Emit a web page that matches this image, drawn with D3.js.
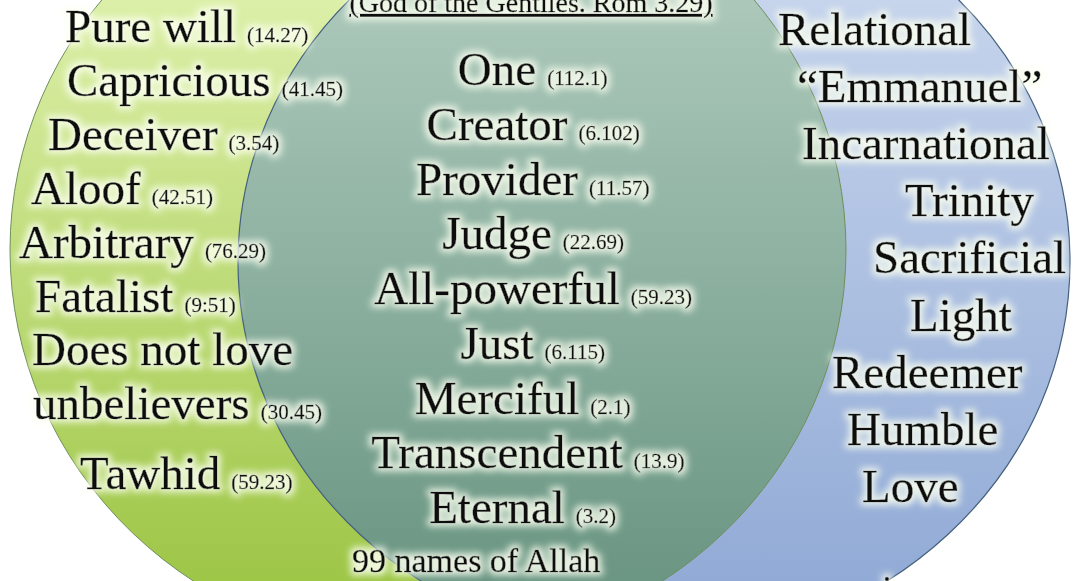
<!DOCTYPE html>
<html>
<head>
<meta charset="utf-8">
<script src="https://cdn.jsdelivr.net/npm/d3@7"></script>
<style>
html, body { margin: 0; padding: 0; background: #fff; overflow: hidden; }
svg { display: block; }
text { font-family: "Liberation Serif", "Times New Roman", serif; fill: #0d0d0d; stroke: #0d0d0d; stroke-width: 0.45px; }
</style>
</head>
<body>
<div id="chart"></div>
<script>
// terms shown in each part of the diagram
const leftTerms = ['Pure will', 'Capricious', 'Deceiver', 'Aloof', 'Arbitrary', 'Fatalist', 'Does not love', 'unbelievers', 'Tawhid'];
const leftRefs = ['(14.27)', '(41.45)', '(3.54)', '(42.51)', '(76.29)', '(9:51)', '', '(30.45)', '(59.23)'];

const sharedTerms = ['One', 'Creator', 'Provider', 'Judge', 'All-powerful', 'Just', 'Merciful', 'Transcendent', 'Eternal'];
const sharedRefs = ['(112.1)', '(6.102)', '(11.57)', '(22.69)', '(59.23)', '(6.115)', '(2.1)', '(13.9)', '(3.2)'];

const rightTerms = ['Relational', '\u201cEmmanuel\u201d', 'Incarnational', 'Trinity', 'Sacrificial', 'Light', 'Redeemer', 'Humble', 'Love'];

const titleText = '(God of the Gentiles. Rom 3.29)';
const footerText = '99 names of Allah';

const w = 1073;
const h = 581;

// layout: sets as ellipses, rows on a linear scale
const sets = [
    { cx: 428, cy: 250, rx: 418, ry: 400 },
    { cx: 654, cy: 262, rx: 416, ry: 385 }
];
const leftRow = d3.scaleLinear().domain([0, 1]).range([42, 95.9]);
const sharedRow = d3.scaleLinear().domain([0, 1]).range([85, 139.75]);
const rightRow = d3.scaleLinear().domain([0, 1]).range([45, 102.1]);
const leftIdx = [0, 1, 2, 3, 4, 5, 6, 7, 8.3];
const leftX = [65, 67, 48, 31, 19, 35, 32, 33, 80];
const rightX = [778, 797, 802, 905, 873, 910, 832, 847, 862];
const sharedX = 497;

const svg = d3.select('#chart').append('svg').attr('width', w).attr('height', h);
const defs = svg.append('defs');

const grad = (id, top, bottom) => {
    const g = defs.append('linearGradient').attr('id', id)
        .attr('gradientUnits', 'userSpaceOnUse')
        .attr('x1', 0).attr('y1', 0).attr('x2', 0).attr('y2', h);
    g.append('stop').attr('offset', 0).attr('stop-color', top);
    g.append('stop').attr('offset', 1).attr('stop-color', bottom);
}
grad('gLeft', '#dcefa8', '#9ec647');
grad('gRight', '#c6d4ec', '#92abd6');
grad('gMid', '#abc8ba', '#6b9683');

defs.append('clipPath').attr('id', 'clipRight')
    .append('ellipse')
    .attr('cx', sets[1].cx).attr('cy', sets[1].cy).attr('rx', sets[1].rx).attr('ry', sets[1].ry);

const glow = defs.append('filter').attr('id', 'glow')
    .attr('x', '-20%').attr('y', '-50%').attr('width', '140%').attr('height', '200%');
glow.append('feMorphology').attr('in', 'SourceAlpha').attr('operator', 'dilate').attr('radius', 2.5).attr('result', 'd');
glow.append('feGaussianBlur').attr('in', 'd').attr('stdDeviation', 3.5).attr('result', 'b');
glow.append('feFlood').attr('flood-color', '#fbfff0').attr('flood-opacity', 0.85);
glow.append('feComposite').attr('in2', 'b').attr('operator', 'in').attr('result', 'g');
const merge = glow.append('feMerge');
merge.append('feMergeNode').attr('in', 'g');
merge.append('feMergeNode').attr('in', 'SourceGraphic');

const ell = (sel, s) => sel.attr('cx', s.cx).attr('cy', s.cy).attr('rx', s.rx).attr('ry', s.ry);

// shapes
ell(svg.append('ellipse'), sets[0]).attr('fill', 'url(#gLeft)');
ell(svg.append('ellipse'), sets[1]).attr('fill', 'url(#gRight)');
ell(svg.append('ellipse'), sets[0]).attr('fill', 'url(#gMid)').attr('clip-path', 'url(#clipRight)');
ell(svg.append('ellipse'), sets[0]).attr('fill', 'none').attr('stroke', '#6f8f5a').attr('stroke-width', 1);
ell(svg.append('ellipse'), sets[1]).attr('fill', 'none').attr('stroke', '#44607e').attr('stroke-width', 1.2);

const labels = svg.append('g').attr('filter', 'url(#glow)');

// title
labels.append('text')
    .attr('x', 531).attr('y', 12)
    .attr('text-anchor', 'middle')
    .style('font-size', '28px')
    .style('text-decoration', 'underline')
    .text(titleText);

// left set
leftTerms.forEach((t, i) => {
    const el = labels.append('text')
        .attr('x', leftX[i]).attr('y', leftRow(leftIdx[i]));
    el.append('tspan').style('font-size', '47px').text(t);
    if (leftRefs[i]) {
        el.append('tspan').attr('dx', 11).style('font-size', '21px').text(leftRefs[i]);
    }
});

// shared
sharedTerms.forEach((t, i) => {
    const yy = sharedRow(i);
    const main = labels.append('text')
        .attr('x', sharedX).attr('y', yy)
        .attr('text-anchor', 'middle')
        .style('font-size', '47px')
        .text(t);
    const tw = main.node().getComputedTextLength();
    labels.append('text')
        .attr('x', sharedX + tw / 2 + 11).attr('y', yy)
        .style('font-size', '21px')
        .text(sharedRefs[i]);
});

labels.append('text')
    .attr('x', 352).attr('y', 572)
    .style('font-size', '34px')
    .text(footerText);

// right set
rightTerms.forEach((t, i) => {
    labels.append('text')
        .attr('x', rightX[i]).attr('y', rightRow(i))
        .style('font-size', '47px')
        .text(t);
});

labels.append('text')
    .attr('x', 887).attr('y', 592)
    .attr('text-anchor', 'middle')
    .style('font-size', '32px')
    .text(':');
</script>
</body>
</html>
